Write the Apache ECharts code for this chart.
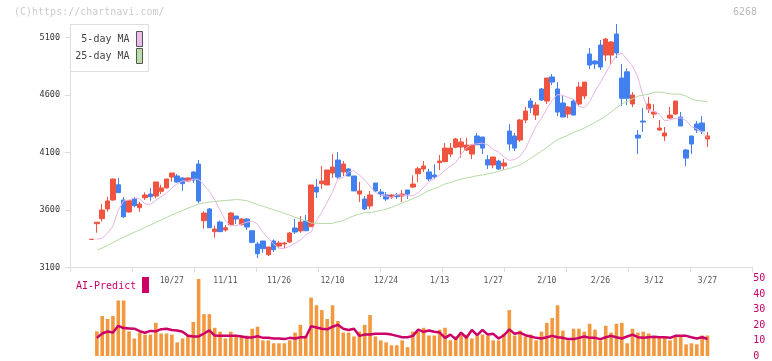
<!DOCTYPE html>
<html><head><meta charset="utf-8">
<script src="https://cdn.jsdelivr.net/npm/echarts@6/dist/echarts.min.js"></script>
<style>html,body{margin:0;padding:0;background:#fff}#c{width:772px;height:361px}</style>
</head><body><div id="c"></div>
<script>
const dates = ["10/3","10/6","10/7","10/8","10/9","10/10","10/14","10/15","10/16","10/17","10/20","10/21","10/22","10/23","10/24","10/27","10/28","10/29","10/30","10/31",
"11/4","11/5","11/6","11/7","11/10","11/11","11/12","11/13","11/14","11/17","11/18","11/19","11/20","11/21","11/25","11/26","11/27","11/28",
"12/1","12/2","12/3","12/4","12/5","12/8","12/9","12/10","12/11","12/12","12/15","12/16","12/17","12/18","12/19","12/22","12/23","12/24","12/25","12/26","12/29","12/30",
"1/5","1/6","1/7","1/8","1/9","1/13","1/14","1/15","1/16","1/19","1/20","1/21","1/22","1/23","1/26","1/27","1/28","1/29","1/30",
"2/2","2/3","2/4","2/5","2/6","2/9","2/10","2/12","2/13","2/16","2/17","2/18","2/19","2/20","2/24","2/25","2/26","2/27",
"3/2","3/3","3/4","3/5","3/6","3/9","3/10","3/11","3/12","3/13","3/16","3/17","3/18","3/19","3/23","3/24","3/25","3/26","3/27"];
const opens = [3343,3479,3523,3607,3685,3818,3685,3581,3694,3618,3705,3737,3720,3761,3790,3885,3894,3877,3850,3929,
3998,3505,3607,3410,3494,3424,3470,3546,3470,3520,3418,3303,3329,3210,3329,3285,3303,3320,3442,3416,
3503,3453,3798,3827,3816,3920,4033,3929,3955,3894,3737,3694,3633,3833,3755,3729,3711,3729,3720,3772,
3798,3914,3955,3929,3903,4010,4018,4085,4144,4146,4120,4085,4242,4233,4036,3990,4024,3981,4285,4242,
4207,4381,4546,4424,4651,4546,4755,4651,4529,4433,4546,4520,4590,4955,4894,5033,4946,4946,5129,4746,
4800,4520,4250,4372,4476,4433,4294,4242,4398,4433,4407,4120,4242,4346,4355,4216];
const closes = [3343,3492,3598,3677,3868,3749,3540,3679,3636,3650,3729,3714,3842,3790,3868,3920,3842,3827,3877,3859,
3677,3572,3444,3433,3410,3444,3572,3520,3520,3450,3317,3218,3262,3277,3253,3311,3311,3398,3407,3494,
3418,3816,3755,3850,3946,3972,3885,3998,3894,3764,3764,3607,3729,3764,3737,3694,3729,3714,3737,3737,
3824,3957,3981,3868,3885,4024,4137,4137,4216,4190,4163,4163,4166,4137,3990,4059,3955,4007,4172,4137,
4381,4459,4488,4511,4555,4746,4711,4450,4407,4494,4424,4668,4711,4859,4868,4842,5085,5059,4964,4570,
4570,4598,4224,4363,4520,4450,4311,4268,4424,4546,4329,4050,4172,4294,4285,4242];
const lows = [3343,3401,3497,3583,3680,3749,3529,3575,3622,3583,3685,3679,3700,3737,3790,3844,3836,3766,3842,3833,
3657,3436,3444,3357,3410,3410,3465,3477,3465,3424,3309,3181,3227,3198,3233,3268,3268,3311,3390,3401,
3418,3453,3703,3781,3816,3877,3868,3894,3894,3764,3668,3598,3607,3755,3711,3677,3694,3694,3668,3694,
3790,3842,3929,3848,3865,3946,4018,4059,4135,4053,4111,4042,4166,4085,3955,3961,3946,3946,4117,4111,
4190,4355,4442,4381,4546,4520,4685,4416,4407,4398,4424,4503,4563,4824,4824,4816,4894,4859,4920,4503,
4511,4494,4085,4277,4442,4398,4285,4198,4390,4424,4329,3981,4085,4268,4259,4146];
const highs = [3343,3494,3650,3714,3870,3877,3711,3685,3711,3670,3752,3790,3842,3818,3868,3920,3911,3883,3883,3935,
4033,3587,3616,3462,3505,3468,3581,3546,3528,3526,3420,3320,3329,3277,3343,3331,3320,3407,3520,3546,
3555,3816,3868,3981,3946,4085,4103,4024,3964,3894,3842,3720,3764,3833,3781,3755,3737,3746,3772,3772,
3900,3975,4024,3957,3996,4077,4181,4181,4225,4225,4225,4163,4268,4233,4077,4059,4036,4042,4346,4268,
4390,4494,4572,4537,4660,4746,4781,4711,4590,4503,4563,4711,4711,5007,4903,5077,5094,5068,5216,4868,
4830,4624,4294,4485,4581,4520,4381,4320,4494,4546,4450,4129,4242,4372,4416,4277];
const ma5 = [null,3343,3355,3396,3459,3596,3677,3686,3703,3694,3651,3647,3682,3714,3745,3789,3827,3852,3849,3867,
3865,3816,3762,3686,3597,3507,3461,3461,3476,3493,3501,3476,3405,3353,3305,3265,3264,3283,3310,3336,
3384,3406,3507,3578,3667,3757,3868,3882,3930,3939,3903,3861,3805,3752,3726,3720,3706,3731,3728,3722,
3722,3748,3794,3847,3873,3903,3943,3979,4010,4080,4141,4169,4174,4180,4164,4124,4103,4061,4030,4037,
4066,4130,4231,4327,4395,4479,4552,4602,4595,4574,4562,4497,4489,4541,4631,4706,4790,4873,4943,4964,
4904,4850,4752,4585,4465,4455,4431,4374,4382,4395,4400,4376,4323,4304,4278,4226];
const ma25 = [null,3250,3268,3290,3315,3340,3362,3384,3405,3425,3447,3468,3490,3512,3533,3555,3575,3595,3614,3632,
3648,3660,3667,3672,3677,3681,3685,3689,3686,3679,3663,3645,3632,3616,3601,3585,3569,3553,3535,3520,
3505,3485,3483,3481,3480,3483,3495,3507,3529,3548,3562,3575,3576,3585,3594,3606,3621,3641,3659,3678,
3697,3718,3744,3767,3785,3801,3825,3838,3853,3868,3878,3885,3897,3903,3913,3922,3934,3948,3959,3975,
3991,4019,4048,4079,4110,4142,4179,4210,4228,4250,4274,4290,4311,4334,4360,4387,4414,4451,4487,4520,
4543,4564,4589,4598,4606,4621,4624,4618,4609,4606,4605,4589,4562,4551,4547,4538];
const volume = [null,15.9,25.8,23.9,25.8,35.8,35.8,15.9,11.3,15.1,13.8,13.8,21.4,14.5,14.5,13.8,8.8,11.3,13.8,22.0,
49.7,27.0,27.0,18.2,15.7,11.3,15.7,13.2,13.2,13.2,17.6,18.9,10.1,10.1,8.2,8.2,8.2,10.1,15.1,20.1,
13.2,37.7,32.7,29.6,23.9,32.7,22.6,15.1,15.1,12.6,15.7,20.1,26.4,12.6,10.1,8.8,6.9,6.9,10.1,5.7,
15.7,15.7,18.2,13.2,13.2,17.0,18.2,10.1,12.6,13.8,13.8,11.3,13.2,13.8,13.2,10.1,10.1,14.5,29.6,13.2,
16.4,12.6,13.8,10.1,15.7,21.4,24.5,32.7,16.4,10.1,17.6,17.6,15.7,20.8,17.0,10.1,19.5,15.1,20.8,21.4,
8.2,17.6,15.1,15.7,14.5,12.6,12.6,12.6,10.1,12.6,12.6,7.5,8.2,7.5,13.2,13.2];
const aiPredict = [null,11.7,14.5,15.8,15.2,19.5,18.0,17.8,17.6,16.0,15.0,16.2,15.9,17.3,17.6,16.8,16.4,15.7,13.0,12.6,
12.6,14.5,16.5,13.2,13.0,13.0,13.0,13.0,12.6,12.0,12.0,12.8,11.7,11.7,11.3,11.3,10.9,11.7,11.3,12.1,
12.1,19.2,18.4,17.6,17.2,18.9,20.1,17.6,16.8,17.6,13.0,13.8,13.8,14.3,14.3,14.3,13.8,13.0,12.1,12.1,
13.0,17.0,15.6,16.4,15.6,15.1,11.7,13.8,10.9,15.1,11.7,16.8,13.4,16.8,13.8,14.3,11.3,13.4,17.2,14.3,
15.1,13.4,12.6,11.7,11.3,12.1,13.0,12.1,11.7,10.9,10.9,11.7,12.6,11.7,11.7,10.9,12.1,13.0,12.1,11.3,
12.6,13.8,12.1,11.7,12.1,12.4,12.1,12.1,11.7,13.0,13.0,13.0,12.1,11.3,12.1,11.0];
const priceTicks = [3100,3600,4100,4600,5100];
const xLabelStart = 15, xLabelStep = 10;

const chart = echarts.init(document.getElementById('c'), null, {renderer:'canvas'});
const FONT = '"DejaVu Sans Mono", "Liberation Mono", monospace';
const candles = dates.map((d,i)=>[opens[i],closes[i],lows[i],highs[i]]);
const gL = 88.82, gW = 621.36, gTop = 24, mainH = 243.3;
chart.setOption({
  animation:false,
  backgroundColor:'#fff',
  grid:[
    {left:70, right:20, top:gTop, height:mainH},
    {left:gL, width:gW, top:gTop, height:mainH},
    {left:gL, width:gW, top:278.5, height:79.5}
  ],
  xAxis:[
    {gridIndex:0, type:'value', min:0, max:11, interval:1,
     axisLine:{show:true, lineStyle:{color:'#dddddd', width:1}},
     axisTick:{show:true, length:5, lineStyle:{color:'#dddddd'}},
     axisLabel:{show:false}, splitLine:{show:false}},
    {gridIndex:1, type:'category', data:dates, boundaryGap:true,
     axisLine:{show:false}, axisTick:{show:false}, splitLine:{show:false},
     axisLabel:{show:true, interval:(i)=> i>=xLabelStart && (i-xLabelStart)%xLabelStep===0,
       color:'#555', fontFamily:FONT, fontSize:8, margin:10}},
    {gridIndex:2, type:'category', data:dates, boundaryGap:true, show:false}
  ],
  yAxis:[
    {gridIndex:0, type:'value', min:3100, max:5216,
     axisLine:{show:true, lineStyle:{color:'#dddddd'}},
     axisTick:{show:true, length:5, customValues:priceTicks, lineStyle:{color:'#dddddd'}},
     axisLabel:{show:true, customValues:priceTicks, formatter:(v)=>String(v), color:'#333', fontFamily:FONT, fontSize:8.5, margin:10},
     splitLine:{show:false}},
    {gridIndex:1, type:'value', min:3100, max:5216, show:false},
    {gridIndex:2, type:'value', min:0, max:50, interval:10, position:'right', offset:40,
     axisLine:{show:false}, axisTick:{show:false}, splitLine:{show:false},
     axisLabel:{color:'#cc0066', fontFamily:FONT, fontSize:10, margin:3}}
  ],
  series:[
    {type:'candlestick', xAxisIndex:1, yAxisIndex:1, data:candles, barWidth:5,
     itemStyle:{color:'#f0533f', color0:'#4280f0', borderColor:'#f0533f', borderColor0:'#4280f0', borderWidth:1}},
    {type:'line', xAxisIndex:1, yAxisIndex:1, data:ma5, symbol:'none', smooth:false,
     lineStyle:{color:'#e8b4e8', width:1}, z:3},
    {type:'line', xAxisIndex:1, yAxisIndex:1, data:ma25, symbol:'none',
     lineStyle:{color:'#b5dba5', width:1}, z:3},
    {type:'bar', xAxisIndex:2, yAxisIndex:2, data:volume, barWidth:3.6,
     itemStyle:{color:'#f2983e'}},
    {type:'line', xAxisIndex:2, yAxisIndex:2, data:aiPredict, symbol:'none',
     lineStyle:{color:'#cc0066', width:2.5}, z:4}
  ],
  graphic:[
    {type:'text', x:14, y:12, z:100, style:{text:'(C)https://chartnavi.com/', font:'10px '+FONT, fill:'#cccccc', textVerticalAlign:'middle'}},
    {type:'text', x:757, y:12, z:100, style:{text:'6268', font:'10px '+FONT, fill:'#bbbbbb', textAlign:'right', textVerticalAlign:'middle'}},
    {type:'rect', z:100, shape:{x:70.5, y:24.5, width:78, height:47}, style:{fill:'#fff', stroke:'#dddddd', lineWidth:1}},
    {type:'text', x:129.5, y:39, z:101, style:{text:'5-day MA', font:'10px '+FONT, fill:'#444', textAlign:'right', textVerticalAlign:'middle'}},
    {type:'text', x:129.5, y:56, z:101, style:{text:'25-day MA', font:'10px '+FONT, fill:'#444', textAlign:'right', textVerticalAlign:'middle'}},
    {type:'rect', z:101, shape:{x:136.5, y:31.5, width:6, height:15}, style:{fill:'#eebbee', stroke:'#555', lineWidth:1}},
    {type:'rect', z:101, shape:{x:136.5, y:48.5, width:6, height:15}, style:{fill:'#bbddaa', stroke:'#555', lineWidth:1}},
    {type:'text', x:76, y:286, z:100, style:{text:'AI-Predict', font:'10px '+FONT, fill:'#cc0066', textVerticalAlign:'middle'}},
    {type:'rect', z:100, shape:{x:142, y:277, width:7, height:16}, style:{fill:'#cc0066'}}
  ]
});
</script></body></html>
